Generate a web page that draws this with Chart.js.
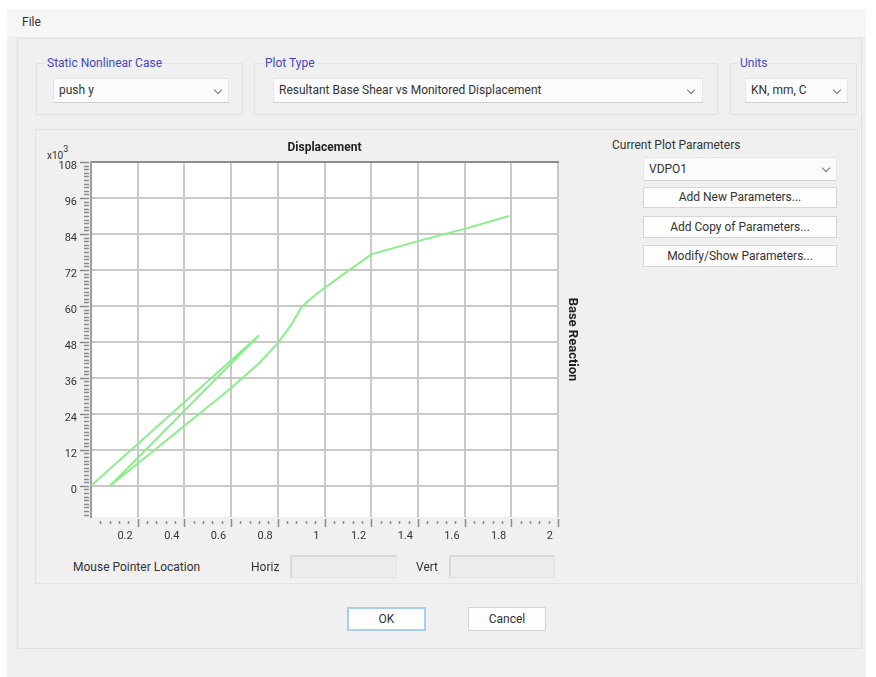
<!DOCTYPE html>
<html>
<head>
<meta charset="utf-8">
<title>Pushover Curve</title>
<script src="https://cdn.jsdelivr.net/npm/chart.js@4.4.0/dist/chart.umd.min.js"></script>
<style>
  html, body { margin: 0; padding: 0; width: 876px; height: 677px; overflow: hidden; background: #ffffff;
    font-family: Roboto, "Segoe UI", Arial, sans-serif; font-size: 12px; color: #333; }
  .a { position: absolute; box-sizing: border-box; }
  #win { left: 7px; top: 9px; width: 859px; height: 668px; background: #f0f0f0; }
  #menubar { left: 7px; top: 9px; width: 859px; height: 27px; background: #f6f6f6; }
  .panel { border: 1px solid #e0e0e0; background: #f0f0f0; }
  .group { border: 1px solid #e2e2e2; }
  .glabel { color: #4646c4; background: #f0f0f0; padding: 0 2px; line-height: 14px; white-space: nowrap; }
  .combo { background: #fbfbfb; border: 1px solid #e4e4e4; border-bottom: 1px solid #cfcfcf; line-height: 23px; padding-left: 5px; white-space: nowrap; }
  .chev { position: absolute; width: 5px; height: 5px; border-right: 1px solid #777; border-bottom: 1px solid #777; transform: rotate(45deg); }
  .btn { background: #fdfdfd; border: 1px solid #d6d6d6; text-align: center; white-space: nowrap; }
  .txt { white-space: nowrap; line-height: 14px; }
  .box { background: #ececec; border: 1px solid #e2e2e2; border-top: 2px solid #d9d9d9; border-left: 2px solid #d9d9d9; }
</style>
</head>
<body>
<div class="a" id="win"></div>
<div class="a" id="menubar"></div>
<div class="a txt" style="left:22px; top:15px;">File</div>

<div class="a panel" style="left:17px; top:38px; width:845px; height:611px;"></div>

<!-- selection row -->
<div class="a group" style="left:36px; top:63px; width:207px; height:52px;"></div>
<div class="a glabel" style="left:45px; top:56px;">Static Nonlinear Case</div>
<div class="a combo" style="left:53px; top:78px; width:176px; height:25px;">push y<span class="chev" style="left:161px; top:8px;"></span></div>

<div class="a group" style="left:254px; top:63px; width:464px; height:52px;"></div>
<div class="a glabel" style="left:263px; top:56px;">Plot Type</div>
<div class="a combo" style="left:273px; top:78px; width:430px; height:25px;">Resultant Base Shear vs Monitored Displacement<span class="chev" style="left:414px; top:8px;"></span></div>

<div class="a group" style="left:730px; top:63px; width:127px; height:52px;"></div>
<div class="a glabel" style="left:738px; top:56px;">Units</div>
<div class="a combo" style="left:745px; top:78px; width:103px; height:25px;">KN, mm, C<span class="chev" style="left:88px; top:8px;"></span></div>

<!-- plot group -->
<div class="a group" style="left:35px; top:129px; width:823px; height:455px;"></div>
<div class="a txt" style="left:47px; top:145px; font-size:10px;">x10<sup style="font-size:9px; position:relative; top:-3px;">3</sup></div>

<canvas id="curve" class="a" width="548" height="421" style="left:36px; top:136px;"></canvas>

<div class="a txt" style="left:612px; top:138px;">Current Plot Parameters</div>
<div class="a combo" style="left:643px; top:157px; width:194px; height:24px; line-height:22px;">VDPO1<span class="chev" style="left:179px; top:7px;"></span></div>
<div class="a btn" style="left:643px; top:187px; width:194px; height:21px; line-height:19px;">Add New Parameters...</div>
<div class="a btn" style="left:643px; top:216px; width:194px; height:22px; line-height:20px;">Add Copy of Parameters...</div>
<div class="a btn" style="left:643px; top:245px; width:194px; height:22px; line-height:20px;">Modify/Show Parameters...</div>

<div class="a txt" style="left:73px; top:560px;">Mouse Pointer Location</div>
<div class="a txt" style="left:251px; top:560px;">Horiz</div>
<div class="a box" style="left:290px; top:555px; width:107px; height:23px;"></div>
<div class="a txt" style="left:416px; top:560px;">Vert</div>
<div class="a box" style="left:449px; top:555px; width:106px; height:23px;"></div>

<div class="a btn" style="left:347px; top:607px; width:79px; height:24px; line-height:20px; border:2px solid #a9cdee;">OK</div>
<div class="a btn" style="left:468px; top:607px; width:78px; height:24px; line-height:22px;">Cancel</div>

<script>
// Pushover curve: monitored displacement vs resultant base reaction (x10^3)
const displacement = [0.00, 0.72, 0.082, 0.30, 0.60, 0.72, 0.80, 0.86, 0.90, 0.95, 1.00, 1.10, 1.20, 1.40, 1.60, 1.79];
const baseReaction = [0.0, 50.2, 0.0, 13.7, 32.6, 40.9, 47.6, 54.0, 59.5, 63.0, 66.0, 71.6, 77.2, 81.6, 85.7, 90.0];

const xTicks = [0.2, 0.4, 0.6, 0.8, 1, 1.2, 1.4, 1.6, 1.8, 2];
const yTicks = [0, 12, 24, 36, 48, 60, 72, 84, 96, 108];

const X_MIN = 0, X_MAX = 2, Y_MIN = -10.4, Y_MAX = 108;
const FONT = 'Roboto, "Segoe UI", Arial, sans-serif';

// white plotting field plus the small minor tick marks along both axes
const plotFrame = {
  id: 'plotFrame',
  beforeDraw(chart) {
    const { ctx, chartArea: a } = chart;
    ctx.save();
    ctx.fillStyle = '#ffffff';
    ctx.fillRect(a.left, a.top, a.right - a.left, a.bottom - a.top);
    ctx.restore();
  },
  afterDraw(chart) {
    const { ctx, chartArea: a, scales } = chart;
    ctx.save();
    ctx.strokeStyle = '#8a8a8a';
    ctx.lineWidth = 1.5;
    ctx.beginPath();
    for (let k = Math.ceil(Y_MIN / 1.2); k * 1.2 <= Y_MAX + 1e-9; k++) {
      const py = Math.round(scales.y.getPixelForValue(k * 1.2)) + 0.5;
      const len = (k % 10 === 0) ? 9 : 5;
      ctx.moveTo(a.left - 2, py);
      ctx.lineTo(a.left - 2 - len, py);
    }
    for (let k = 1; k <= 50; k++) {
      const px = Math.round(scales.x.getPixelForValue(k * 0.04)) + 0.5;
      const major = (k % 5 === 0);
      ctx.moveTo(px, a.bottom + (major ? 2 : 4));
      ctx.lineTo(px, a.bottom + (major ? 10 : 7));
    }
    ctx.stroke();
    ctx.restore();
  }
};

const gridStyle = { color: '#c9c9c9', lineWidth: 2, drawTicks: false };

new Chart(document.getElementById('curve'), {
  type: 'scatter',
  data: {
    datasets: [{
      data: displacement.map((d, i) => ({ x: d, y: baseReaction[i] })),
      showLine: true,
      borderColor: '#8aee8a',
      borderWidth: 2,
      pointRadius: 0,
      tension: 0,
      fill: false
    }]
  },
  options: {
    responsive: false,
    animation: false,
    devicePixelRatio: 1,
    layout: { padding: { top: 1, left: 0, right: 0, bottom: 0 } },
    plugins: { legend: { display: false }, tooltip: { enabled: false } },
    scales: {
      x: {
        type: 'linear', position: 'bottom', min: X_MIN, max: X_MAX,
        afterBuildTicks: s => { s.ticks = xTicks.map(v => ({ value: v })); },
        afterFit: s => { s.height = 40; },
        grid: gridStyle,
        border: { display: false },
        ticks: { autoSkip: false, maxRotation: 0, padding: 13, align: 'end', labelOffset: -5,
                 color: '#333', font: { family: FONT, size: 11 }, callback: v => String(v) }
      },
      xTop: {
        type: 'linear', position: 'top', min: X_MIN, max: X_MAX,
        afterFit: s => { s.height = 25; },
        grid: { drawOnChartArea: false, drawTicks: false },
        border: { display: true, color: '#8c8c8c', width: 2 },
        ticks: { display: false },
        title: { display: true, text: 'Displacement', color: '#222',
                 font: { family: FONT, size: 12, weight: 'bold' }, padding: { top: 4, bottom: 0 } }
      },
      y: {
        type: 'linear', position: 'left', min: Y_MIN, max: Y_MAX,
        afterBuildTicks: s => { s.ticks = yTicks.map(v => ({ value: v })); },
        afterFit: s => { s.width = 55; },
        grid: gridStyle,
        border: { display: true, color: '#9c9c9c', width: 2 },
        ticks: { autoSkip: false, padding: 14, labelOffset: 4,
                 color: '#333', font: { family: FONT, size: 11 }, callback: v => String(v) }
      },
      yRight: {
        type: 'linear', position: 'right', min: Y_MIN, max: Y_MAX,
        afterFit: s => { s.width = 26; },
        grid: { drawOnChartArea: false, drawTicks: false },
        border: { display: false },
        ticks: { display: false },
        title: { display: true, text: 'Base Reaction', color: '#222',
                 font: { family: FONT, size: 13, weight: 'bold' }, padding: { top: 4, bottom: 0 } }
      }
    }
  },
  plugins: [plotFrame]
});
</script>
</body>
</html>
